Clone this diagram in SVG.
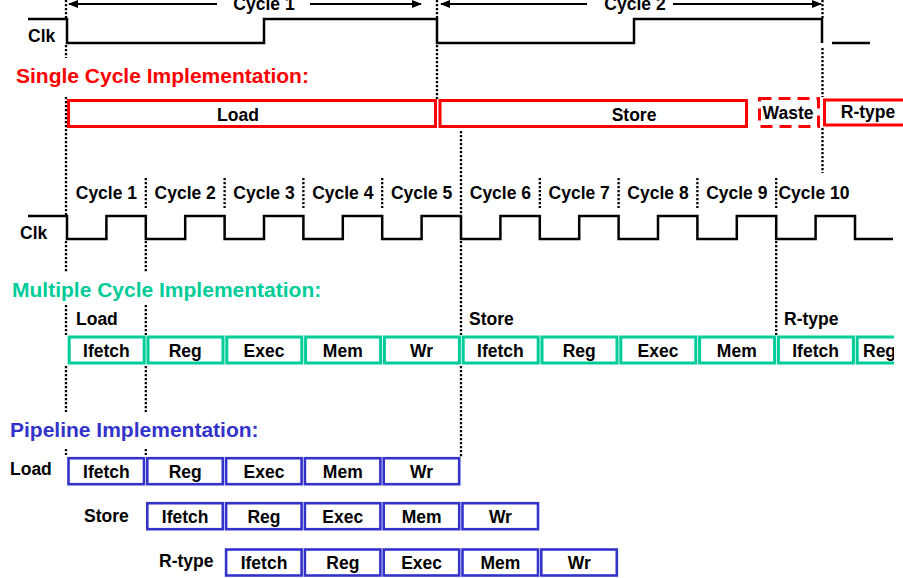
<svg xmlns="http://www.w3.org/2000/svg" width="903" height="578" viewBox="0 0 903 578">
  <style>
    text { font-family: "Liberation Sans", Arial, Helvetica, sans-serif; font-weight: bold; }
    .lbl { font-size: 17.5px; fill: #000; }
    .mid { text-anchor: middle; }
    .title { font-size: 21px; }
    .red { fill: #ff0000; }
    .green { fill: #00cc99; }
    .blue { fill: #3333cc; }
    .clk { fill: none; stroke: #000; stroke-width: 2.5; }
    .dot { fill: none; stroke: #000; stroke-width: 2.3; stroke-dasharray: 2.2 1.8; }
    .arrow { fill: none; stroke: #000; stroke-width: 2; }
    .sbox { fill: #fff; stroke: #ff0000; stroke-width: 3; }
    .waste { fill: #fff; stroke: #ff0000; stroke-width: 3; stroke-dasharray: 12 7; }
    .mbox { fill: #fff; stroke: #00cc99; stroke-width: 3; }
    .pbox { fill: #fff; stroke: #3333cc; stroke-width: 2.6; }
  </style>
  <defs>
    <marker id="head" markerWidth="10" markerHeight="8" refX="9" refY="4" orient="auto-start-reverse" markerUnits="userSpaceOnUse">
      <path d="M0,0 L10,4 L0,8 Z" fill="#000"/>
    </marker>
    <clipPath id="rightEdge">
      <rect x="0" y="0" width="894" height="578"/>
    </clipPath>
  </defs>

  <!-- guide lines, clock waveforms and cycle arrows -->
  <g id="connectors">
    <!-- cycle length arrows of the single cycle clock -->
    <line class="arrow" x1="217" y1="4" x2="69" y2="4" marker-end="url(#head)"/>
    <line class="arrow" x1="310" y1="4" x2="421" y2="4" marker-end="url(#head)"/>
    <line class="arrow" x1="587" y1="4" x2="441" y2="4" marker-end="url(#head)"/>
    <line class="arrow" x1="673" y1="4" x2="821" y2="4" marker-end="url(#head)"/>

    <!-- single cycle clock -->
    <path class="clk" d="M28,19 H67 V43 H264 V19 H437 V43 H634 V19 H822 V43"/>
    <path class="clk" d="M832,43 H870"/>

    <!-- multiple cycle clock -->
    <path class="clk" d="M28,216 H67 V239 H106.4 V216 H145.8 V239 H185.2 V216 H224.6 V239 H264 V216 H303.4 V239 H342.8 V216 H382.2 V239 H421.6 V216 H461 V239 H500.4 V216 H539.8 V239 H579.2 V216 H618.6 V239 H658 V216 H697.4 V239 H736.8 V216 H776.2 V239 H815.6 V216 H855 V239 H893"/>

    <!-- dotted guides -->
    <path class="dot" d="M66,0 V18 M66,45 V58 M66,97 V215 M66,241 V272 M66,305 V335 M66,366 V412 M66,449 V455"/>
    <path class="dot" d="M145.8,178 V208 M145.8,241 V272 M145.8,305 V335 M145.8,366 V412 M145.8,449 V455"/>
    <path class="dot" d="M224.6,178 V208 M303.4,178 V208 M382.2,178 V208 M539.8,178 V208 M618.6,178 V208 M697.4,178 V208"/>
    <path class="dot" d="M461,131 V215 M461,241 V335 M461,366 V457"/>
    <path class="dot" d="M776.2,178 V208 M776.2,241 V335"/>
    <path class="dot" d="M437,0 V18 M437,45 V99"/>
    <path class="dot" d="M822.5,0 V18 M822.5,48 V97 M822.5,128 V173"/>
  </g>

  <!-- single cycle clock labels -->
  <g id="single-clock-labels">
    <text class="lbl mid" x="264" y="10">Cycle 1</text>
    <text class="lbl mid" x="635" y="10">Cycle 2</text>
    <text class="lbl" x="28" y="41.5">Clk</text>
  </g>

  <!-- single cycle implementation -->
  <g id="single-cycle">
    <text class="title red" x="16" y="83">Single Cycle Implementation:</text>
    <g id="sc-load">
      <rect class="sbox" x="68.5" y="100.5" width="367" height="26"/>
      <text class="lbl mid" x="238" y="120.5">Load</text>
    </g>
    <g id="sc-store">
      <rect class="sbox" x="440" y="100.5" width="306.5" height="26"/>
      <text class="lbl mid" x="634" y="120.5">Store</text>
    </g>
    <g id="sc-waste">
      <rect class="waste" x="759.5" y="98.5" width="59" height="28"/>
      <text class="lbl mid" x="788" y="118.5">Waste</text>
    </g>
    <g id="sc-rtype">
      <rect class="sbox" x="824.5" y="100" width="100" height="25"/>
      <text class="lbl mid" x="868" y="118">R-type</text>
    </g>
  </g>

  <!-- multiple cycle clock labels -->
  <g id="multi-clock-labels">
    <text class="lbl mid" x="106.4" y="199">Cycle 1</text>
    <text class="lbl mid" x="185.2" y="199">Cycle 2</text>
    <text class="lbl mid" x="264" y="199">Cycle 3</text>
    <text class="lbl mid" x="342.8" y="199">Cycle 4</text>
    <text class="lbl mid" x="421.6" y="199">Cycle 5</text>
    <text class="lbl mid" x="500.4" y="199">Cycle 6</text>
    <text class="lbl mid" x="579.2" y="199">Cycle 7</text>
    <text class="lbl mid" x="658" y="199">Cycle 8</text>
    <text class="lbl mid" x="736.8" y="199">Cycle 9</text>
    <text class="lbl mid" x="814" y="199">Cycle 10</text>
    <text class="lbl" x="20" y="239">Clk</text>
  </g>

  <!-- multiple cycle implementation -->
  <g id="multi-cycle">
    <text class="title green" x="12" y="297">Multiple Cycle Implementation:</text>
    <text class="lbl" x="76" y="324.5">Load</text>
    <text class="lbl" x="469" y="324.5">Store</text>
    <text class="lbl" x="784" y="324.5">R-type</text>
    <g id="mc-1"><rect class="mbox" x="69.2" y="337" width="75" height="26"/><text class="lbl mid" x="106.4" y="356.5">Ifetch</text></g>
    <g id="mc-2"><rect class="mbox" x="148" y="337" width="75" height="26"/><text class="lbl mid" x="185.2" y="356.5">Reg</text></g>
    <g id="mc-3"><rect class="mbox" x="226.8" y="337" width="75" height="26"/><text class="lbl mid" x="264" y="356.5">Exec</text></g>
    <g id="mc-4"><rect class="mbox" x="305.6" y="337" width="75" height="26"/><text class="lbl mid" x="342.8" y="356.5">Mem</text></g>
    <g id="mc-5"><rect class="mbox" x="384.4" y="337" width="75" height="26"/><text class="lbl mid" x="421.6" y="356.5">Wr</text></g>
    <g id="mc-6"><rect class="mbox" x="463.2" y="337" width="75" height="26"/><text class="lbl mid" x="500.4" y="356.5">Ifetch</text></g>
    <g id="mc-7"><rect class="mbox" x="542" y="337" width="75" height="26"/><text class="lbl mid" x="579.2" y="356.5">Reg</text></g>
    <g id="mc-8"><rect class="mbox" x="620.8" y="337" width="75" height="26"/><text class="lbl mid" x="658" y="356.5">Exec</text></g>
    <g id="mc-9"><rect class="mbox" x="699.6" y="337" width="75" height="26"/><text class="lbl mid" x="736.8" y="356.5">Mem</text></g>
    <g id="mc-10"><rect class="mbox" x="778.4" y="337" width="75" height="26"/><text class="lbl mid" x="815.6" y="356.5">Ifetch</text></g>
    <g id="mc-11" clip-path="url(#rightEdge)">
      <path class="mbox" d="M894,337 H857.2 V363 H894"/>
      <text class="lbl" x="863" y="356.5">Reg</text>
    </g>
  </g>

  <!-- pipeline implementation -->
  <g id="pipeline">
    <text class="title blue" x="10" y="437">Pipeline Implementation:</text>
    <g id="pl-load">
      <text class="lbl" x="10" y="475">Load</text>
      <rect class="pbox" x="68.5" y="458.2" width="75.5" height="26"/><text class="lbl mid" x="106.4" y="478">Ifetch</text>
      <rect class="pbox" x="147.3" y="458.2" width="75.5" height="26"/><text class="lbl mid" x="185.2" y="478">Reg</text>
      <rect class="pbox" x="226.1" y="458.2" width="75.5" height="26"/><text class="lbl mid" x="264" y="478">Exec</text>
      <rect class="pbox" x="304.9" y="458.2" width="75.5" height="26"/><text class="lbl mid" x="342.8" y="478">Mem</text>
      <rect class="pbox" x="383.7" y="458.2" width="75.5" height="26"/><text class="lbl mid" x="421.6" y="478">Wr</text>
    </g>
    <g id="pl-store">
      <text class="lbl" x="84" y="521.5">Store</text>
      <rect class="pbox" x="147.3" y="503.2" width="75.5" height="26"/><text class="lbl mid" x="185.2" y="522.5">Ifetch</text>
      <rect class="pbox" x="226.1" y="503.2" width="75.5" height="26"/><text class="lbl mid" x="264" y="522.5">Reg</text>
      <rect class="pbox" x="304.9" y="503.2" width="75.5" height="26"/><text class="lbl mid" x="342.8" y="522.5">Exec</text>
      <rect class="pbox" x="383.7" y="503.2" width="75.5" height="26"/><text class="lbl mid" x="421.6" y="522.5">Mem</text>
      <rect class="pbox" x="462.5" y="503.2" width="75.5" height="26"/><text class="lbl mid" x="500.4" y="522.5">Wr</text>
    </g>
    <g id="pl-rtype">
      <text class="lbl" x="159" y="567">R-type</text>
      <rect class="pbox" x="226.1" y="549.5" width="75.5" height="26"/><text class="lbl mid" x="264" y="569">Ifetch</text>
      <rect class="pbox" x="304.9" y="549.5" width="75.5" height="26"/><text class="lbl mid" x="342.8" y="569">Reg</text>
      <rect class="pbox" x="383.7" y="549.5" width="75.5" height="26"/><text class="lbl mid" x="421.6" y="569">Exec</text>
      <rect class="pbox" x="462.5" y="549.5" width="75.5" height="26"/><text class="lbl mid" x="500.4" y="569">Mem</text>
      <rect class="pbox" x="541.3" y="549.5" width="75.5" height="26"/><text class="lbl mid" x="579.2" y="569">Wr</text>
    </g>
  </g>
</svg>
